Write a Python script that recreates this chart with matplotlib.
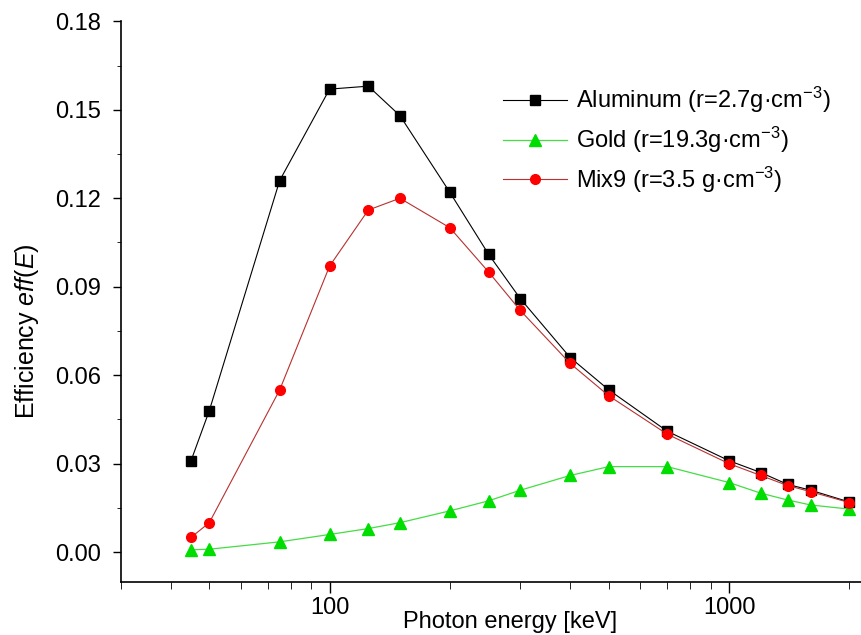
import matplotlib
matplotlib.use("Agg")
import matplotlib.pyplot as plt
from matplotlib.ticker import LogLocator, FixedLocator, FixedFormatter, MultipleLocator, NullFormatter

plt.rcParams['font.family'] = ['Liberation Sans', 'DejaVu Sans']
plt.rcParams['mathtext.fontset'] = 'custom'
plt.rcParams['mathtext.rm'] = 'Liberation Sans'
plt.rcParams['mathtext.it'] = 'Liberation Sans:italic'

# photon energies [keV]
energy = [45, 50, 75, 100, 125, 150, 200, 250, 300, 400, 500, 700, 1000, 1200, 1400, 1600, 2000]
# efficiency values
aluminum = [0.031, 0.048, 0.126, 0.157, 0.158, 0.148, 0.122, 0.101, 0.086, 0.066, 0.055,
            0.041, 0.031, 0.027, 0.023, 0.021, 0.017]
gold = [0.0008, 0.001, 0.0035, 0.006, 0.008, 0.010, 0.014, 0.0174, 0.021, 0.026, 0.029,
        0.029, 0.0236, 0.020, 0.0177, 0.016, 0.0146]
mix9 = [0.005, 0.010, 0.055, 0.097, 0.116, 0.120, 0.110, 0.095, 0.082, 0.064, 0.053,
        0.040, 0.030, 0.026, 0.0226, 0.0205, 0.0168]

labels = ['Aluminum (r=2.7g·cm$^{-3}$)',
          'Gold (r=19.3g·cm$^{-3}$)',
          'Mix9 (r=3.5 g·cm$^{-3}$)']

fig = plt.figure(figsize=(8.62, 6.35), dpi=100)
ax = fig.add_axes([0.140, 0.084, 0.859, 0.8825])

ax.plot(energy, aluminum, color='black', lw=0.8, marker='s', ms=6.5,
        mfc='black', mec='black', label=labels[0])
ax.plot(energy, gold, color='#44dd44', lw=0.9, marker='^', ms=8.5,
        mfc='#00dd00', mec='#00dd00', label=labels[1])
ax.plot(energy, mix9, color='#b83030', lw=0.8, marker='o', ms=7,
        mfc='#ff0000', mec='#ff0000', label=labels[2])

ax.set_xscale('log')
ax.set_xlim(30, 2140)
ax.set_ylim(-0.01, 0.18)

# x ticks: 100 and 1000 labelled, minor ticks in between
ax.xaxis.set_major_locator(FixedLocator([100, 1000]))
ax.xaxis.set_major_formatter(FixedFormatter(['100', '1000']))
ax.xaxis.set_minor_locator(LogLocator(base=10, subs=range(2, 10)))
ax.xaxis.set_minor_formatter(NullFormatter())

ax.yaxis.set_major_locator(MultipleLocator(0.03))
ax.yaxis.set_minor_locator(MultipleLocator(0.015))
ax.yaxis.set_major_formatter(plt.FuncFormatter(lambda v, p: f"{v:.2f}"))

ax.tick_params(axis='both', which='major', labelsize=17, width=1, direction='out')
ax.tick_params(axis='x', which='major', length=8, pad=3)
ax.tick_params(axis='x', which='minor', length=5)
ax.tick_params(axis='y', which='major', length=6, pad=8)
ax.tick_params(axis='y', which='minor', length=3)

ax.spines['top'].set_visible(False)
ax.spines['right'].set_visible(False)
ax.spines['left'].set_linewidth(1.2)
ax.spines['bottom'].set_linewidth(1.2)

ax.set_xlabel('Photon energy [keV]', fontsize=17)
ax.xaxis.set_label_coords(0.526, -0.052)
ax.set_ylabel('Efficiency $\\mathit{eff(E)}$', fontsize=18)
ax.yaxis.set_label_coords(-0.108, 0.447)

ax.legend(loc='upper left', bbox_to_anchor=(0.5835, 0.866), bbox_transform=fig.transFigure,
          frameon=False, fontsize=17, handlelength=2.7, handletextpad=0.4,
          borderpad=0, borderaxespad=0, labelspacing=0.4)

plt.savefig('out.png', dpi=100)
